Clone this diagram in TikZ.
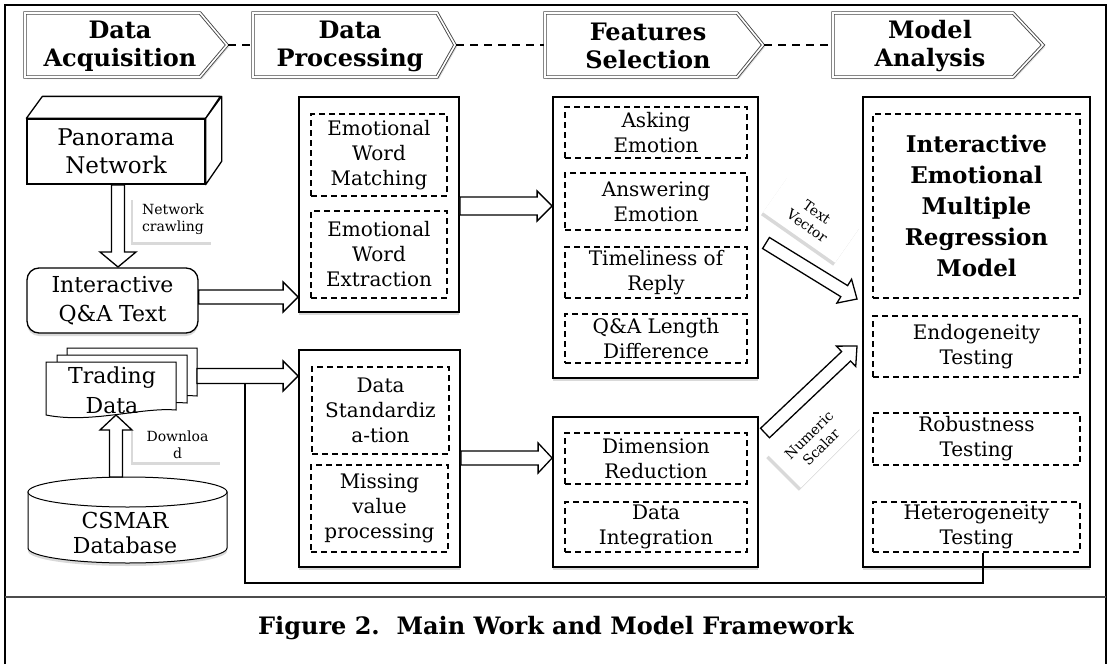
\documentclass[tikz,border=0pt]{standalone}
\usepackage{fontspec}
\setmainfont{DejaVu Serif}
\usetikzlibrary{calc,shadows}
\newcommand\fs[2]{\fontsize{#1}{#2}\selectfont}
\tikzset{
  solidbox/.style={draw, line width=1.8pt, fill=white, inner sep=0pt,
    drop shadow={shadow xshift=0pt, shadow yshift=-3pt, opacity=0.3}},
  dbox/.style={draw, dash pattern=on 6pt off 4pt, line width=1.3pt, inner sep=0pt,
    align=center, font=\fs{20}{25}},
  hdrshape/.style={draw=gray!55!black, line width=0.9pt, double=white, double distance=1.6pt, fill=white,
    drop shadow={shadow xshift=2pt, shadow yshift=-2pt, opacity=0.25}},
  hdrtext/.style={font=\bfseries\fs{24}{28}, align=center, inner sep=0pt},
  hdash/.style={line width=1.8pt, dash pattern=on 8pt off 6pt},
  barr/.style={draw, line width=1.3pt, fill=white},
  lbl/.style={fill=white, inner sep=0pt, align=center, font=\fs{14}{17},
    drop shadow={shadow xshift=-2pt, shadow yshift=-3pt, opacity=0.3}},
  docst/.style={draw, line width=1pt, fill=white},
  conn/.style={line width=2.2pt},
}
\newcommand\barrow[5]{%
  \coordinate (bahb) at ($(#2)!#5!(#1)$);
  \draw[barr] ($(#1)!#3!90:(#2)$) -- ($(bahb)!#3!-90:(#1)$) -- ($(bahb)!#4!-90:(#1)$) -- (#2)
    -- ($(bahb)!#4!90:(#1)$) -- ($(bahb)!#3!90:(#1)$) -- ($(#1)!#3!-90:(#2)$) -- cycle;}
\newcommand\docpage[2]{%
  \draw[docst] (#1,#2) -- ({#1+130},#2) -- ({#1+130},{#2+48})
    .. controls ({#1+95},{#2+45}) and ({#1+45},{#2+62}) .. (#1,{#2+53}) -- cycle;}
\begin{document}
\begin{tikzpicture}[x=1pt, y=-1pt]
\useasboundingbox (0,0) rectangle (1111,664);
% frame
\draw[line width=1.5pt] (5,664) -- (5,5) -- (1106,5) -- (1106,664);
\draw[line width=1.2pt, gray!60!black] (5,597) -- (1106,597);

% header arrows
\draw[hdrshape] (25,13) -- (200,13) -- (227,45) -- (200,77) -- (25,77) -- cycle;
\draw[hdrshape] (253,13) -- (437,13) -- (455,45) -- (437,77) -- (253,77) -- cycle;
\draw[hdrshape] (545,13) -- (737,13) -- (763,45) -- (737,77) -- (545,77) -- cycle;
\draw[hdrshape] (833,13) -- (1013,13) -- (1043,45) -- (1013,77) -- (833,77) -- cycle;
\coordinate (h1tip) at (228,45); \coordinate (h2left) at (252,45);
\coordinate (h2tip) at (456,45); \coordinate (h3left) at (544,45);
\coordinate (h3tip) at (764,45); \coordinate (h4left) at (832,45);
\draw[hdash] (h1tip) -- (h2left);
\draw[hdash] (h2tip) -- (h3left);
\draw[hdash] (h3tip) -- (h4left);
\node[hdrtext] (h1) at (120,46) {Data\\Acquisition};
\node[hdrtext] (h2) at (350,46) {Data\\Processing};
\node[hdrtext] (h3) at (648,46) {Features\\Selection};
\node[hdrtext] (h4) at (930,46) {Model\\Analysis};

% Panorama network 3D box
\node[draw, line width=1.3pt, fill=white, minimum width=178pt, minimum height=65pt] (pano) at (116,151.5) {};
\draw[line width=1.3pt, fill=white, line join=round] (pano.north west) -- ++(16,-22) -- ++(178,0) -- (pano.north east) -- cycle;
\draw[line width=1.3pt, fill=white, line join=round] (pano.north east) -- ++(16,-22) -- ++(0,65) -- (pano.south east) -- cycle;
\node[align=center, inner sep=0pt, font=\fs{23}{28}] (panot) at (pano.center) {Panorama\\Network};

% Interactive Q&A
\node[draw, line width=1.3pt, rounded corners=12pt, fill=white, minimum width=171pt, minimum height=65pt,
  align=center, inner sep=0pt, font=\fs{22}{29},
  drop shadow={shadow xshift=0pt, shadow yshift=-3pt, opacity=0.3}] (iqa) at (112.5,300.5) {Interactive\\Q\&A Text};

% network crawling label and arrow
\node[lbl, minimum width=80pt, minimum height=45pt] (crawl) at (173,219.5) {Network\\crawling};
\coordinate (a1s) at (118,185);
\coordinate (a1e) at (118,267);
\barrow{a1s}{a1e}{6.5pt}{18pt}{15pt}

% Trading data pages
\docpage{67}{348}
\docpage{57}{355}
\docpage{46}{362}
\node[align=center, inner sep=0pt, font=\fs{22}{30}] (td) at (112,390) {Trading\\Data};

% CSMAR cylinder
\draw[line width=1pt, fill=white, drop shadow={shadow xshift=0pt, shadow yshift=-3pt, opacity=0.3}]
  (28,492) -- (28,548) arc[start angle=180, end angle=0, x radius=99.5, y radius=15] -- (227,492) -- cycle;
\draw[line width=1pt, fill=white] (127.5,492) ellipse[x radius=99.5, y radius=15];
\node[align=center, inner sep=0pt, font=\fs{22}{25}] (csmar) at (125,533) {CSMAR\\Database};

% download label and arrow
\node[lbl, minimum width=89pt, minimum height=34pt] (dl) at (177.5,445) {Downloa\\d};
\coordinate (a3s) at (116,477);
\coordinate (a3e) at (116,415);
\barrow{a3s}{a3e}{6.5pt}{16pt}{15pt}

% Data processing boxes
\node[solidbox, minimum width=160pt, minimum height=215pt] (dp1) at (379,204.5) {};
\node[dbox, minimum width=136pt, minimum height=82pt] (dp1a) at (379,155) {Emotional\\Word\\Matching};
\node[dbox, minimum width=136pt, minimum height=87pt] (dp1b) at (379,254.5) {Emotional\\Word\\Extraction};
\node[solidbox, minimum width=161pt, minimum height=217pt] (dp2) at (379.5,458.5) {};
\node[dbox, minimum width=137pt, minimum height=87pt] (dp2a) at (380.5,410.5) {Data\\Standardiz\\a-tion};
\node[dbox, minimum width=137pt, minimum height=87pt] (dp2b) at (379.5,508.5) {Missing\\value\\processing};

% Feature selection boxes
\node[solidbox, minimum width=205pt, minimum height=281pt] (fs1) at (655.5,237.5) {};
\node[dbox, minimum width=182pt, minimum height=51pt] (fs1a) at (656,132.5) {Asking\\Emotion};
\node[dbox, minimum width=182pt, minimum height=57pt] (fs1b) at (656,201.5) {Answering\\Emotion};
\node[dbox, minimum width=182pt, minimum height=51pt] (fs1c) at (656,272.5) {Timeliness of\\Reply};
\node[dbox, minimum width=182pt, minimum height=49pt] (fs1d) at (656,338.5) {Q\&A Length\\Difference};
\node[solidbox, minimum width=205pt, minimum height=150pt] (fs2) at (655.5,492) {};
\node[dbox, minimum width=182pt, minimum height=51pt] (fs2a) at (656,458.5) {Dimension\\Reduction};
\node[dbox, minimum width=182pt, minimum height=50pt] (fs2b) at (656,527) {Data\\Integration};

% Model analysis
\node[solidbox, minimum width=227pt, minimum height=470pt] (ma) at (976.5,332) {};
\node[dbox, minimum width=207pt, minimum height=184pt, font=\bfseries\fs{23}{31}] (ma1) at (976.5,206) {Interactive\\Emotional\\Multiple\\Regression\\Model};
\node[dbox, minimum width=207pt, minimum height=61pt] (ma2) at (976.5,346.5) {Endogeneity\\Testing};
\node[dbox, minimum width=207pt, minimum height=52pt] (ma3) at (976.5,439) {Robustness\\Testing};
\node[dbox, minimum width=207pt, minimum height=50pt] (ma4) at (976.5,527) {Heterogeneity\\Testing};

% horizontal block arrows
\coordinate (a2s) at (iqa.east |- 0,297);
\coordinate (a2e) at (dp1.west |- 0,297);
\barrow{a2s}{a2e}{7pt}{15pt}{15pt}
\coordinate (a4s) at (197,376);
\coordinate (a4e) at (dp2.west |- 0,376);
\barrow{a4s}{a4e}{7.5pt}{15pt}{15pt}
\coordinate (a5s) at (dp1.east |- 0,206);
\coordinate (a5e) at (fs1.west |- 0,206);
\barrow{a5s}{a5e}{9pt}{15pt}{15pt}
\coordinate (a6s) at (dp2.east |- 0,458);
\coordinate (a6e) at (fs2.west |- 0,458);
\barrow{a6s}{a6e}{7pt}{15pt}{14pt}

% diagonal arrows and labels
\node[lbl, minimum width=88pt, minimum height=45pt, rotate=-35] (tv) at (812,219) {Text\\Vector};
\coordinate (a7s) at (766,243);
\coordinate (a7e) at (857,299);
\barrow{a7s}{a7e}{6.5pt}{14pt}{15pt}
\node[lbl, minimum width=86pt, minimum height=46pt, rotate=45] (ns) at (815,441) {Numeric\\Scalar};
\coordinate (a8s) at (765,433);
\coordinate (a8e) at (857,346);
\barrow{a8s}{a8e}{6.5pt}{14pt}{15pt}

% connector from trading data to heterogeneity
\coordinate (split) at (245,383);
\coordinate (hetlink) at (983,583);
\draw[conn] (split) |- (hetlink) -- (hetlink |- ma4.south);

% caption
\node[font=\bfseries\fs{24}{28}, inner sep=0pt] (cap) at (556,628) {Figure 2.\ \ Main Work and Model Framework};
\end{tikzpicture}
\end{document}
